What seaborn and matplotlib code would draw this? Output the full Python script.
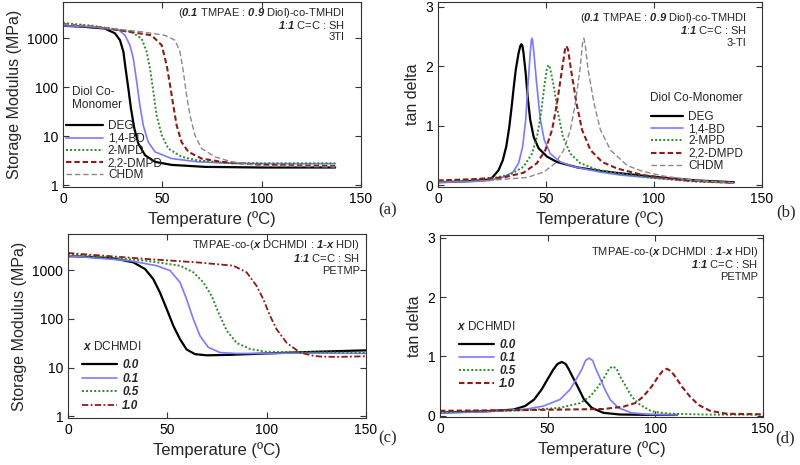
import matplotlib
matplotlib.use("Agg")
import matplotlib.pyplot as plt
import seaborn as sns

# (a) storage modulus, diol co-monomer series
deg_T = [0, 10, 21.1, 26.2, 28.7, 30.4, 31.5, 32.9, 34.2, 35.9, 37.9, 41.3, 46.3, 54.7, 71.5, 100, 137]
deg_E = [1800, 1720, 1580, 1260, 910, 530, 240, 94, 37, 14.4, 7.1, 4.1, 3.0, 2.6, 2.37, 2.3, 2.3]
bd_T = [0, 15, 28.3, 31.2, 33.7, 35.4, 37.1, 38.7, 40.4, 42.9, 46.3, 54.7, 68.1, 84.9, 110, 137]
bd_E = [1800, 1700, 1450, 1150, 720, 385, 129, 43, 16.7, 7.6, 4.8, 3.5, 3.0, 2.8, 2.75, 2.75]
mpd_T = [0, 15, 34.6, 39.6, 42.1, 43.8, 45.5, 47.1, 49.7, 53, 59.7, 68.1, 84.9, 110, 137]
mpd_E = [2050, 1800, 1350, 980, 530, 240, 80, 27, 10.5, 5.6, 3.8, 3.2, 2.8, 2.8, 2.8]
dmpd_T = [0, 20, 44.6, 49.7, 52.2, 53.9, 55.5, 57.2, 59.7, 63.1, 69.8, 79.9, 100, 137]
dmpd_E = [1950, 1650, 1150, 720, 280, 110, 43, 16.7, 7.6, 4.8, 3.5, 3.0, 2.6, 2.45]
chdm_T = [0, 20, 40, 51.3, 56.4, 58.9, 60.6, 62.2, 63.9, 66.4, 69.8, 76.5, 84.9, 100, 137]
chdm_E = [1950, 1650, 1350, 1150, 910, 530, 205, 69, 27, 10.5, 5.6, 3.8, 3.0, 2.5, 2.35]

# (b) tan delta, diol co-monomer series
deg_tT = [0, 10, 20, 24.2, 25.4, 28, 30, 31.6, 33, 34.1, 35.1, 36, 37.3, 38.1, 38.6, 39.1, 39.6,
          40.6, 41.5, 42.7, 44.3, 46.6, 50.5, 55.1, 64.4, 75.2, 84.5, 100, 120, 137]
deg_D = [0.05, 0.06, 0.08, 0.10, 0.14, 0.25, 0.42, 0.65, 0.98, 1.32, 1.66, 1.94, 2.22, 2.34, 2.37, 2.34, 2.22,
         1.88, 1.49, 1.10, 0.81, 0.62, 0.48, 0.39, 0.30, 0.24, 0.2, 0.14, 0.08, 0.05]
bd_tT = [0, 15, 24.2, 30.3, 34.7, 37.3, 39.2, 40.6, 41.6, 42.7, 43.2, 43.5, 43.8, 44.4, 45.8, 47.4, 49.2,
         52, 56.7, 62.9, 75.2, 84.5, 100, 120, 137]
bd_D = [0.05, 0.06, 0.08, 0.14, 0.22, 0.37, 0.65, 1.1, 1.66, 2.22, 2.43, 2.47, 2.43, 2.22, 1.66, 1.1, 0.76,
        0.53, 0.39, 0.31, 0.22, 0.17, 0.12, 0.07, 0.04]
mpd_tT = [0, 15, 25.7, 33.4, 39.6, 43.5, 45.8, 47.7, 49.2, 50.5, 51.2, 51.9, 53.6, 55.6, 57.9, 61.3,
          65.9, 73.7, 83, 100, 120, 137]
mpd_D = [0.07, 0.09, 0.12, 0.18, 0.31, 0.53, 0.81, 1.21, 1.66, 1.97, 2.02, 1.97, 1.66, 1.21, 0.81, 0.53,
         0.37, 0.26, 0.2, 0.12, 0.06, 0.04]
dmpd_tT = [0, 15, 30.3, 39.6, 45.8, 49.7, 52.8, 55.1, 57.4, 58.8, 59.5, 60.2, 61.6, 64.1, 66.7, 70.6,
           76, 83, 95, 115, 137]
dmpd_D = [0.08, 0.1, 0.13, 0.21, 0.37, 0.59, 0.93, 1.38, 1.94, 2.28, 2.34, 2.28, 1.94, 1.38, 0.93, 0.59,
          0.39, 0.28, 0.17, 0.08, 0.04]
chdm_tT = [0, 20, 41.2, 48.9, 54.3, 58.2, 61.3, 63.6, 65.7, 66.9, 67.5, 68.1, 69.5, 72.2, 75.2, 79.9,
           87.6, 95, 105, 120, 137]
chdm_D = [0.05, 0.07, 0.13, 0.22, 0.37, 0.59, 0.93, 1.38, 1.94, 2.38, 2.47, 2.38, 1.94, 1.38, 0.93, 0.59,
          0.33, 0.23, 0.15, 0.08, 0.04]

# (c) storage modulus, x DCHMDI series
x00_T = [0, 6, 22.8, 32.9, 38.8, 42.9, 46.3, 49.7, 53, 56.4, 59.7, 63.9, 69.8, 81.5, 98.3, 123.5, 150]
x00_E = [1930, 1900, 1740, 1440, 1050, 655, 345, 158, 72, 38, 23.5, 18.8, 17.8, 18.2, 19.3, 21, 22.5]
x01_T = [0, 31.2, 44.6, 51.3, 56.4, 59.7, 63.1, 66.4, 70.6, 76.5, 84.9, 100, 125, 150]
x01_E = [1970, 1550, 1230, 980, 560, 253, 98, 45, 26, 20.3, 19.4, 19.5, 19.8, 19.5]
x05_T = [0, 39.6, 56.4, 63.1, 68.1, 72.3, 75.7, 79.9, 84.9, 91.6, 100, 125, 150]
x05_E = [2130, 1550, 1230, 900, 560, 295, 135, 57, 32, 24, 21, 20.5, 20]
x10_T = [0, 39.6, 64.8, 83.2, 89.9, 94.9, 98.3, 101.7, 105, 110.1, 116.8, 123.5, 126.8, 135, 150]
x10_E = [2240, 1690, 1440, 1230, 900, 475, 253, 115, 61, 32, 20.3, 17.4, 16.8, 16.5, 17]

# (d) tan delta, x DCHMDI series
x00_tT = [0, 20, 34.1, 39.5, 43.7, 47.2, 49.9, 52.6, 54.5, 56.5, 58.4, 59.9, 62.2, 64.6, 66.9, 70.5,
          75.9, 83.6, 100, 110]
x00_D = [0.05, 0.07, 0.10, 0.16, 0.27, 0.44, 0.61, 0.775, 0.87, 0.905, 0.87, 0.775, 0.61, 0.44, 0.27, 0.13,
         0.045, 0.017, 0.01, 0.01]
x01_tT = [0, 20, 40.3, 48, 55.7, 60.4, 63.2, 65.8, 67.6, 69.2, 70.9, 72.5, 74.6, 76.6, 79, 82.8,
          89, 97.5, 110]
x01_D = [0.045, 0.06, 0.11, 0.16, 0.27, 0.44, 0.61, 0.775, 0.93, 0.97, 0.93, 0.775, 0.61, 0.44, 0.27, 0.13,
         0.045, 0.017, 0.01]
x05_tT = [0, 20, 40.3, 55.7, 65, 69.7, 73.5, 76.6, 78.5, 80.2, 82, 83.6, 86.4, 89, 92.9, 98.3,
          106.8, 125, 150]
x05_D = [0.055, 0.07, 0.09, 0.13, 0.21, 0.32, 0.49, 0.66, 0.79, 0.83, 0.79, 0.66, 0.49, 0.32, 0.18, 0.07,
         0.03, 0.015, 0.015]
x10_tT = [0, 32.5, 55.7, 75.9, 85.2, 90.6, 94.4, 98.3, 101.4, 103.3, 105.3, 107.3, 109.2, 112.3, 116.1,
          120, 125.4, 133.1, 150]
x10_D = [0.08, 0.09, 0.10, 0.11, 0.15, 0.21, 0.32, 0.49, 0.66, 0.75, 0.79, 0.75, 0.66, 0.49, 0.32,
         0.18, 0.08, 0.03, 0.02]

diol_names = ["DEG", "1,4-BD", "2-MPD", "2,2-DMPD", "CHDM"]
x_names = ["0.0", "0.1", "0.5", "1.0"]

sns.set_style("ticks")
plt.rcParams["font.family"] = ["Liberation Sans", "DejaVu Sans"]
plt.rcParams["mathtext.fontset"] = "custom"
plt.rcParams["mathtext.rm"] = "Liberation Sans"
plt.rcParams["mathtext.bfit"] = "Liberation Sans:italic:bold"
plt.rcParams["axes.edgecolor"] = "#333333"
plt.rcParams["axes.linewidth"] = 0.8

BLACK = dict(color="black", linestyle="-", lw=1.6)
BLUE = dict(color="#7a7aff", linestyle="-", lw=1.2)
GREEN = dict(color="#2a8a2a", linestyle=(0, (1, 1.1)), lw=1.4)
RED = dict(color="#8b1c1c", linestyle=(0, (2.6, 1.4)), lw=1.5)
GREY = dict(color="#8a8a8a", linestyle=(0, (4, 2)), lw=1.0)
REDDOT = dict(color="#8b1c1c", linestyle=(0, (3.5, 1.3, 1, 1.3)), lw=1.3)

fig = plt.figure(figsize=(8, 4.65), dpi=100)
ax_a = fig.add_axes([63/800, 1-187/465, 298/800, 185/465])
ax_b = fig.add_axes([438/800, 1-187/465, 324/800, 185/465])
ax_c = fig.add_axes([68/800, 1-418/465, 298/800, 184/465])
ax_d = fig.add_axes([440/800, 1-417/465, 323/800, 182/465])


def draw(ax, series, styles, names):
    for (t, v), st, nm in zip(series, styles, names):
        sns.lineplot(x=t, y=v, ax=ax, estimator=None, sort=False, label=nm, **st)


draw(ax_a, [(deg_T, deg_E), (bd_T, bd_E), (mpd_T, mpd_E), (dmpd_T, dmpd_E), (chdm_T, chdm_E)],
     [BLACK, BLUE, GREEN, RED, GREY], diol_names)
draw(ax_b, [(deg_tT, deg_D), (bd_tT, bd_D), (mpd_tT, mpd_D), (dmpd_tT, dmpd_D), (chdm_tT, chdm_D)],
     [BLACK, BLUE, GREEN, RED, GREY], diol_names)
draw(ax_c, [(x00_T, x00_E), (x01_T, x01_E), (x05_T, x05_E), (x10_T, x10_E)],
     [BLACK, BLUE, GREEN, REDDOT], x_names)
draw(ax_d, [(x00_tT, x00_D), (x01_tT, x01_D), (x05_tT, x05_D), (x10_tT, x10_D)],
     [BLACK, BLUE, GREEN, RED], x_names)

for ax in (ax_a, ax_c):
    ax.set_yscale("log")
    ax.set_ylim(0.92, 5500)
    ax.set_yticks([1, 10, 100, 1000])
    ax.set_yticklabels(["1", "10", "100", "1000"])
    ax.minorticks_off()
    ax.set_ylabel("Storage Modulus (MPa)", fontsize=11.5)
ax_b.set_ylim(-0.03, 3.08)
ax_d.set_ylim(-0.025, 3.05)
for ax in (ax_b, ax_d):
    ax.set_yticks([0, 1, 2, 3])
    ax.set_ylabel("tan delta", fontsize=11.5)

for ax in (ax_a, ax_b, ax_c, ax_d):
    ax.set_xlim(0, 150)
    ax.set_xticks([0, 50, 100, 150])
    ax.set_xlabel("Temperature (ºC)", fontsize=12)
    ax.tick_params(direction="in", top=True, right=True, length=4, width=0.8,
                   labelsize=10, colors="#333333", labelcolor="black")
    for s in ax.spines.values():
        s.set_visible(True)

LEG = dict(frameon=False, fontsize=8.5, borderpad=0, borderaxespad=0)
leg_a = ax_a.legend(loc="upper left", bbox_to_anchor=(0.01, 0.36), handlelength=3.1, handletextpad=0.45,
                    labelspacing=0.02, **LEG)
leg_b = ax_b.legend(loc="upper right", bbox_to_anchor=(0.941, 0.411), handlelength=2.7, handletextpad=0.4,
                    labelspacing=0.02, **LEG)
leg_c = ax_c.legend(loc="upper left", bbox_to_anchor=(0.047, 0.318), handlelength=3.0, handletextpad=0.4,
                    labelspacing=0.12, **LEG)
leg_d = ax_d.legend(loc="upper left", bbox_to_anchor=(0.059, 0.43), handlelength=3.0, handletextpad=0.4,
                    labelspacing=0.1, **LEG)
for leg in (leg_c, leg_d):
    for t in leg.get_texts():
        t.set_fontweight("bold")
        t.set_fontstyle("italic")

# legend titles
ax_a.text(0.03, 0.514, "Diol Co-", transform=ax_a.transAxes, va="center", fontsize=8.5)
ax_a.text(0.03, 0.443, "Monomer", transform=ax_a.transAxes, va="center", fontsize=8.5)
ax_b.text(0.941, 0.481, "Diol Co-Monomer", transform=ax_b.transAxes, ha="right", va="center", fontsize=8.5)
ax_c.text(0.05, 0.388, r"$\mathbfit{x}$ DCHMDI", transform=ax_c.transAxes, va="center", fontsize=8.5)
ax_d.text(0.053, 0.496, r"$\mathbfit{x}$ DCHMDI", transform=ax_d.transAxes, va="center", fontsize=8.5)

# composition notes, top right of each panel
diol_lines = [r"($\mathbfit{0.1}$ TMPAE : $\mathbfit{0.9}$ Diol)-co-TMHDI",
              r"$\mathbfit{1}$:$\mathbfit{1}$ C=C : SH"]
x_lines = [r"TMPAE-co-($\mathbfit{x}$ DCHMDI : $\mathbfit{1\text{-}x}$ HDI)",
           r"$\mathbfit{1}$:$\mathbfit{1}$ C=C : SH"]


def notes(ax, x, ys, lines):
    for y, s in zip(ys, lines):
        ax.text(x, y, s, transform=ax.transAxes, ha="right", va="center", fontsize=8)


notes(ax_a, 0.946, [0.942, 0.876, 0.811], diol_lines + ["3TI"])
notes(ax_b, 0.953, [0.914, 0.849, 0.778], diol_lines + ["3-TI"])
notes(ax_c, 0.98, [0.94, 0.87, 0.80], x_lines + ["PETMP"])
notes(ax_d, 0.985, [0.908, 0.841, 0.771], x_lines + ["PETMP"])

for x, y, s in [(0.484, 0.548, "(a)"), (0.9825, 0.544, "(b)"), (0.484, 0.058, "(c)"), (0.981, 0.058, "(d)")]:
    fig.text(x, y, s, ha="center", va="center", fontsize=12, family="Liberation Serif")

fig.savefig("out.png", dpi=100)
